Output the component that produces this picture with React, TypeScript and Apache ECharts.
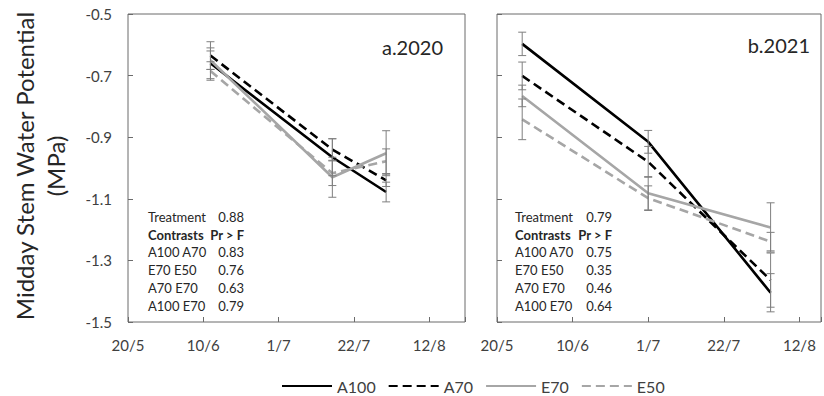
import React, { useEffect, useRef } from "react";
import * as echarts from "echarts";

// x positions are day offsets from 20/5
const xTickLabels = ["20/5", "10/6", "1/7", "22/7", "12/8"];
const tickStep = 21;

const days2020 = [23, 57, 72];
const a100_2020 = [-0.66, -0.965, -1.078];
const a70_2020 = [-0.635, -0.94, -1.04];
const e70_2020 = [-0.65, -1.03, -0.952];
const e50_2020 = [-0.685, -1.017, -0.978];
const a100_2020_err = [0.05, 0.06, 0.032];
const a70_2020_err = [0.045, 0.035, 0.02];
const e70_2020_err = [0.03, 0.065, 0.073];
const e50_2020_err = [0.03, 0.04, 0.04];

const days2021 = [7, 42, 76];
const a100_2021 = [-0.597, -0.915, -1.405];
const a70_2021 = [-0.701, -0.98, -1.364];
const e70_2021 = [-0.766, -1.082, -1.193];
const e50_2021 = [-0.842, -1.098, -1.239];
const a100_2021_err = [0.038, 0.037, 0.062];
const a70_2021_err = [0.045, 0.05, 0.088];
const e70_2021_err = [0.035, 0.054, 0.08];
const e50_2021_err = [0.066, 0.04, 0.03];

const table2020 = [
  ["Treatment", "0.88"],
  ["Contrasts", "Pr > F"],
  ["A100 A70", "0.83"],
  ["E70 E50", "0.76"],
  ["A70 E70", "0.63"],
  ["A100 E70", "0.79"],
];
const table2021 = [
  ["Treatment", "0.79"],
  ["Contrasts", "Pr > F"],
  ["A100 A70", "0.75"],
  ["E70 E50", "0.35"],
  ["A70 E70", "0.46"],
  ["A100 E70", "0.64"],
];

const FONT = "Lato, 'Open Sans', sans-serif";
const BLACK = "#000000";
const GRAY = "#a6a6a6";
const AXIS = "#6b6b6b";

export default function App() {
  const ref = useRef<HTMLDivElement>(null);
  useEffect(() => {
    if (!ref.current) return;
    const chart = echarts.init(ref.current, undefined, { renderer: "svg" });

    const mk = (days: number[], vals: number[]) => days.map((d, i) => [d, vals[i]]);
    const errData = (days: number[], sets: [number[], number[]][]) => {
      const out: number[][] = [];
      sets.forEach(([vals, errs]) => {
        days.forEach((d, i) => out.push([d, vals[i] - errs[i], vals[i] + errs[i]]));
      });
      return out;
    };

    const lineSeries = (name: string, data: number[][], color: string, dashed: boolean, idx: number) => ({
      type: "line",
      name,
      data,
      xAxisIndex: idx,
      yAxisIndex: idx,
      symbol: "none",
      lineStyle: { color, width: 2.6, type: dashed ? [9, 5] : "solid" },
      itemStyle: { color },
      z: 3,
    });

    const errSeries = (data: number[][], idx: number) => ({
      type: "custom",
      xAxisIndex: idx,
      yAxisIndex: idx,
      data,
      encode: { x: 0, y: [1, 2] },
      z: 4,
      renderItem: (params: any, api: any) => {
        const x = api.value(0);
        const p1 = api.coord([x, api.value(2)]);
        const p2 = api.coord([x, api.value(1)]);
        const w = 4;
        const st = { stroke: "#7f7f7f", lineWidth: 1 };
        return {
          type: "group",
          children: [
            { type: "line", shape: { x1: p1[0], y1: p1[1], x2: p2[0], y2: p2[1] }, style: st },
            { type: "line", shape: { x1: p1[0] - w, y1: p1[1], x2: p1[0] + w, y2: p1[1] }, style: st },
            { type: "line", shape: { x1: p2[0] - w, y1: p2[1], x2: p2[0] + w, y2: p2[1] }, style: st },
          ],
        };
      },
    });

    const xAxis = (idx: number, max: number) => ({
      type: "value",
      gridIndex: idx,
      min: 0,
      max,
      interval: tickStep,
      splitLine: { show: false },
      axisLine: { show: false },
      axisTick: { show: true, inside: true, length: 5, lineStyle: { color: AXIS } },
      axisLabel: {
        margin: 15,
        fontSize: 15,
        fontFamily: FONT,
        color: "#404040",
        formatter: (v: number) => {
          const k = Math.round(v / tickStep);
          return Math.abs(v - k * tickStep) < 1e-6 && xTickLabels[k] ? xTickLabels[k] : "";
        },
      },
    });

    const yAxis = (idx: number, showLabels: boolean) => ({
      type: "value",
      gridIndex: idx,
      min: -1.5,
      max: -0.5,
      interval: 0.2,
      splitLine: { show: false },
      axisLine: { show: false },
      axisTick: { show: true, inside: true, length: 5, lineStyle: { color: AXIS } },
      axisLabel: {
        show: showLabels,
        margin: 16,
        fontSize: 15,
        fontFamily: FONT,
        color: "#404040",
        formatter: (v: number) => v.toFixed(1),
      },
    });

    const tableGraphics = (rows: string[][], xl: number, xr: number) => {
      const els: any[] = [];
      rows.forEach((r, i) => {
        const y = 216.7 + i * 17.8;
        const bold = i === 1;
        els.push({
          type: "text",
          x: xl,
          y,
          style: { text: r[0], font: `${bold ? "bold " : ""}13px ${FONT}`, fill: "#262626", textAlign: "left", textVerticalAlign: "middle" },
        });
        els.push({
          type: "text",
          x: xr,
          y,
          style: { text: r[1], font: `${bold ? "bold " : ""}13px ${FONT}`, fill: "#262626", textAlign: "right", textVerticalAlign: "middle" },
        });
      });
      return els;
    };

    chart.setOption({
      animation: false,
      grid: [
        { left: 128, top: 14, width: 337, height: 308, show: true, borderColor: AXIS, borderWidth: 1, backgroundColor: "transparent" },
        { left: 497, top: 14, width: 325, height: 308, show: true, borderColor: AXIS, borderWidth: 1, backgroundColor: "transparent" },
      ],
      xAxis: [xAxis(0, 94), xAxis(1, 90)],
      yAxis: [yAxis(0, true), yAxis(1, false)],
      legend: {
        data: ["A100", "A70", "E70", "E50"],
        left: 276,
        top: 373,
        itemWidth: 50,
        itemHeight: 14,
        itemGap: 12,
        itemStyle: { opacity: 0 },
        textStyle: { fontSize: 16, fontFamily: FONT, color: "#404040" },
      },
      graphic: [
        {
          type: "text",
          x: 24,
          y: 166,
          rotation: Math.PI / 2,
          style: { text: "Midday Stem Water Potential", font: `24px ${FONT}`, fill: "#262626", textAlign: "center", textVerticalAlign: "middle" },
        },
        {
          type: "text",
          x: 55,
          y: 166,
          rotation: Math.PI / 2,
          style: { text: "(MPa)", font: `24px ${FONT}`, fill: "#262626", textAlign: "center", textVerticalAlign: "middle" },
        },
        { type: "text", x: 443, y: 47, style: { text: "a.2020", font: `20px ${FONT}`, fill: "#262626", textAlign: "right", textVerticalAlign: "middle" } },
        { type: "text", x: 810, y: 45, style: { text: "b.2021", font: `20px ${FONT}`, fill: "#262626", textAlign: "right", textVerticalAlign: "middle" } },
        ...tableGraphics(table2020, 148, 244),
        ...tableGraphics(table2021, 515, 612),
      ],
      series: [
        lineSeries("A100", mk(days2020, a100_2020), BLACK, false, 0),
        lineSeries("A70", mk(days2020, a70_2020), BLACK, true, 0),
        lineSeries("E70", mk(days2020, e70_2020), GRAY, false, 0),
        lineSeries("E50", mk(days2020, e50_2020), GRAY, true, 0),
        errSeries(
          errData(days2020, [
            [a100_2020, a100_2020_err],
            [a70_2020, a70_2020_err],
            [e70_2020, e70_2020_err],
            [e50_2020, e50_2020_err],
          ]),
          0
        ),
        lineSeries("A100", mk(days2021, a100_2021), BLACK, false, 1),
        lineSeries("A70", mk(days2021, a70_2021), BLACK, true, 1),
        lineSeries("E70", mk(days2021, e70_2021), GRAY, false, 1),
        lineSeries("E50", mk(days2021, e50_2021), GRAY, true, 1),
        errSeries(
          errData(days2021, [
            [a100_2021, a100_2021_err],
            [a70_2021, a70_2021_err],
            [e70_2021, e70_2021_err],
            [e50_2021, e50_2021_err],
          ]),
          1
        ),
      ],
    });
    return () => chart.dispose();
  }, []);

  return <div ref={ref} style={{ width: 824, height: 396, position: "absolute", left: 0, top: 0 }} />;
}
